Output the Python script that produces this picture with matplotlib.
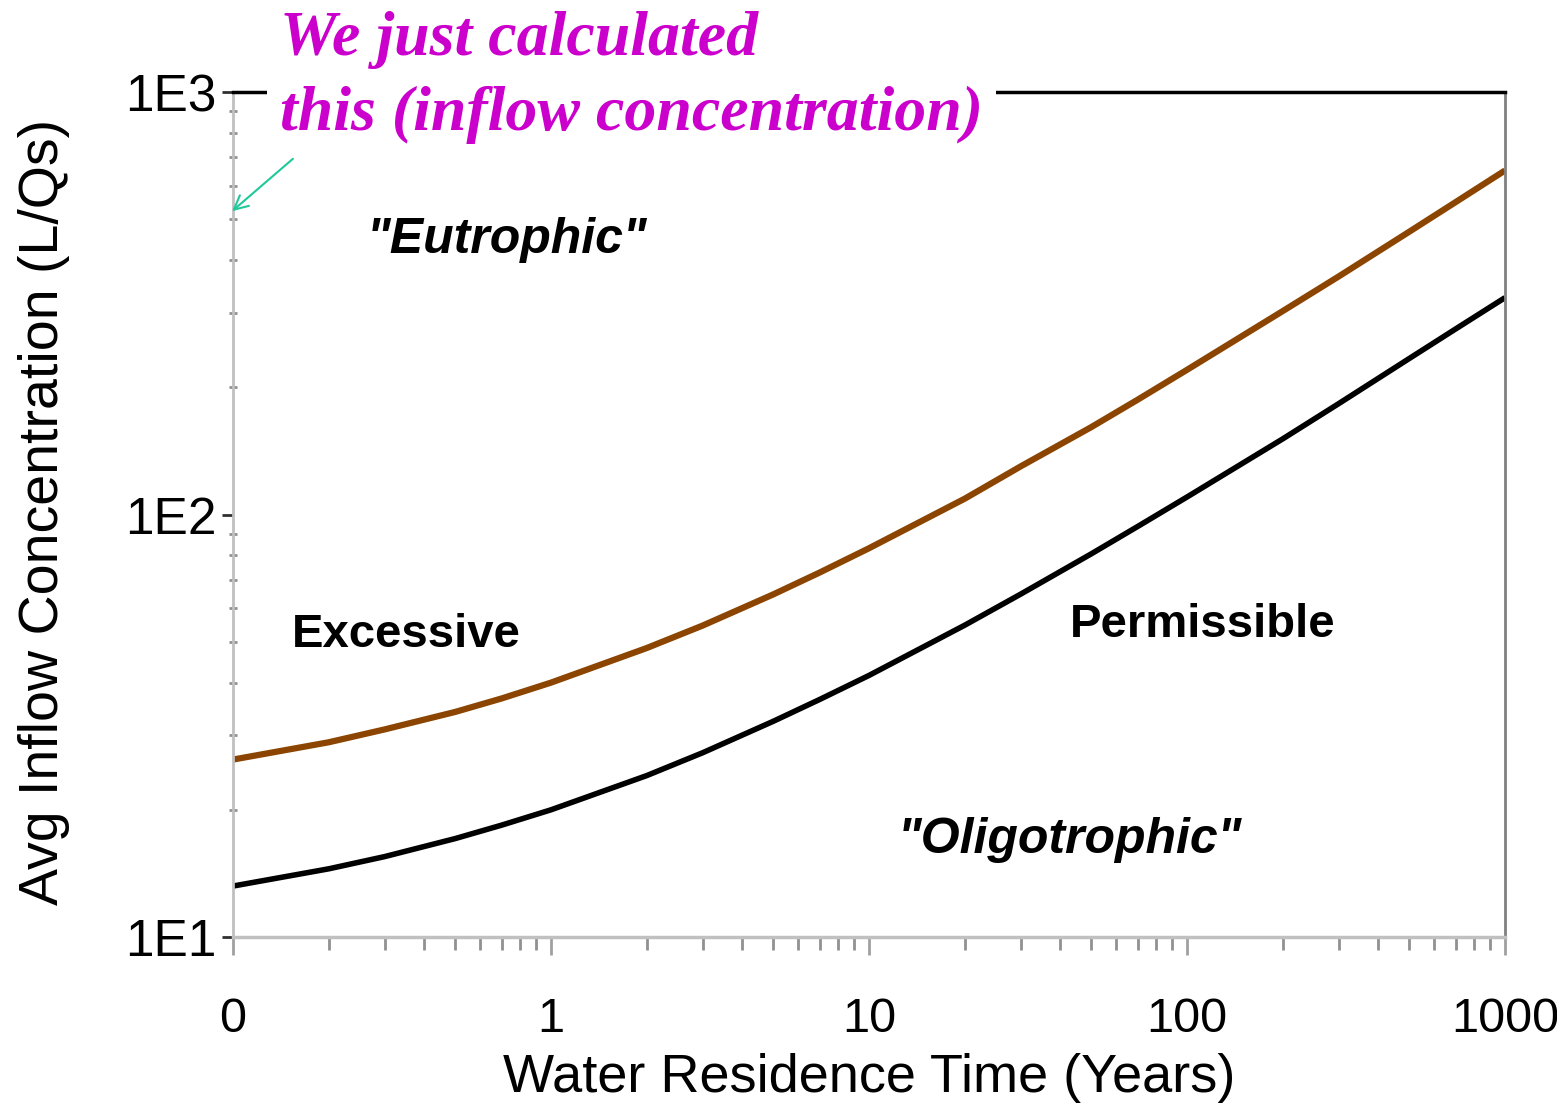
import matplotlib.pyplot as plt
from matplotlib.patches import FancyArrowPatch
from matplotlib.ticker import FixedLocator, FixedFormatter, LogLocator, NullFormatter

# residence time (years) and critical inflow concentration
tau = [0.1, 0.2, 0.3, 0.5, 0.7, 1, 2, 3, 5, 7, 10, 20, 30, 50, 70, 100, 200, 300, 500, 700, 1000]
eutrophic = [26.3, 28.9, 31.0, 34.1, 36.7, 40.0, 48.3, 54.6, 64.7, 72.9, 83.2, 109, 130, 161, 187,
             220, 303, 366, 467, 549, 652]
permissible = [13.2, 14.5, 15.5, 17.1, 18.4, 20.0, 24.1, 27.3, 32.4, 36.5, 41.6, 54.7, 64.8, 80.7,
               93.7, 110, 151, 183, 234, 275, 326]

xticks = [0.1, 1, 10, 100, 1000]
xlabels = ['0', '1', '10', '100', '1000']
yticks = [10, 100, 1000]
ylabels = ['1E1', '1E2', '1E3']

plt.rcParams['font.family'] = ['Liberation Sans', 'DejaVu Sans']

fig = plt.figure(figsize=(15.57, 11.05), dpi=100)
ax = fig.add_axes([233/1557, 1-937/1105, 1272/1557, 845/1105])

ax.plot(tau, eutrophic, color='#8B4500', lw=4.5, solid_capstyle='butt')
ax.plot(tau, permissible, color='black', lw=4.0, solid_capstyle='butt')

ax.set_xscale('log')
ax.set_yscale('log')
ax.set_xlim(0.1, 1000)
ax.set_ylim(10, 1000)

ax.xaxis.set_major_locator(FixedLocator(xticks))
ax.xaxis.set_major_formatter(FixedFormatter(xlabels))
ax.xaxis.set_minor_locator(LogLocator(base=10, subs=range(2, 10)))
ax.xaxis.set_minor_formatter(NullFormatter())
ax.yaxis.set_major_locator(FixedLocator(yticks))
ax.yaxis.set_major_formatter(FixedFormatter(ylabels))
ax.yaxis.set_minor_locator(LogLocator(base=10, subs=range(2, 10)))
ax.yaxis.set_minor_formatter(NullFormatter())

ax.tick_params(axis='x', which='major', direction='out', length=13, width=2, color='#a0a0a0',
               labelsize=35, pad=30)
ax.tick_params(axis='x', which='minor', direction='out', length=9, width=2, color='#909090')
ax.tick_params(axis='y', which='major', direction='out', length=8, width=2, color='#303030',
               labelsize=37, pad=4)
ax.tick_params(axis='y', which='minor', direction='inout', length=6, width=2, color='#909090')

ax.spines['left'].set_color('#c0c0c0')
ax.spines['left'].set_linewidth(2)
ax.spines['bottom'].set_color('#c0c0c0')
ax.spines['bottom'].set_linewidth(2.5)
ax.spines['right'].set_color('#808080')
ax.spines['right'].set_linewidth(2)
ax.spines['top'].set_color('black')
ax.spines['top'].set_linewidth(2.5)

ax.set_xlabel('Water Residence Time (Years)', fontsize=39)
ax.xaxis.set_label_coords(0.5, -0.137)
ax.set_ylabel('Avg Inflow Concentration (L/Qs)', fontsize=40)
ax.yaxis.set_label_coords(-0.128, 0.503)

ax.text(0.2154, 0.825, '"Eutrophic"', transform=ax.transAxes, fontsize=36, style='italic',
        weight='bold', ha='center', va='center')
ax.text(0.136, 0.357, 'Excessive', transform=ax.transAxes, fontsize=34, weight='bold',
        ha='center', va='center')
ax.text(0.7626, 0.369, 'Permissible', transform=ax.transAxes, fontsize=34, weight='bold',
        ha='center', va='center')
ax.text(0.658, 0.115, '"Oligotrophic"', transform=ax.transAxes, fontsize=36, style='italic',
        weight='bold', ha='center', va='center')

fig.text(280/1557, 1-11/1105, 'We just calculated\nthis (inflow concentration)', family='Liberation Serif',
         fontsize=46, style='italic', weight='bold', color='#CC00CC', ha='left', va='top',
         linespacing=1.38, bbox=dict(facecolor='white', edgecolor='none', pad=9))

arrow = FancyArrowPatch((295/1557, 1-157/1105), (230/1557, 1-213/1105), transform=fig.transFigure,
                        arrowstyle='->', color='#20C89A', lw=1.5, mutation_scale=25, zorder=10)
fig.add_artist(arrow)

fig.savefig('out.png', dpi=100)
